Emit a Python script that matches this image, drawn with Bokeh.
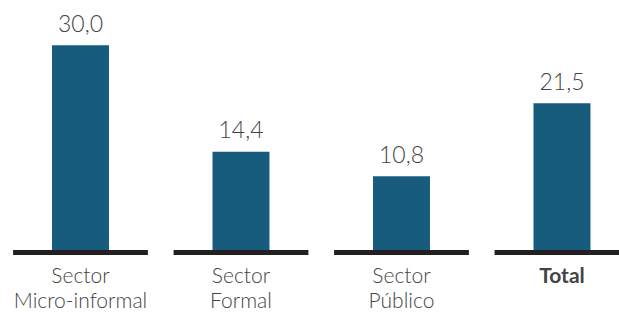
from bokeh.plotting import figure
from bokeh.models import ColumnDataSource, Range1d
from bokeh.core.properties import value
from bokeh.embed import file_html
from bokeh.resources import INLINE

categories = ["Sector Micro-informal", "Sector Formal", "Sector Público", "Total"]
values = [30.0, 14.4, 10.8, 21.5]
label_line1 = ["Sector", "Sector", "Sector", "Total"]
label_line2 = ["Micro-informal", "Formal", "Público", ""]
label_style = ["normal", "normal", "normal", "bold"]
label_font = ["Lato Light", "Lato Light", "Lato Light", "Lato"]

pos = list(range(len(categories)))
base_y = -2.6 / 6.875  # baseline drawn just under the bars
src = ColumnDataSource(dict(
    x=pos,
    top=values,
    lbl=[f"{v:.1f}".replace(".", ",") for v in values],
    l1=label_line1,
    l2=label_line2,
    st=label_style,
    fnt=label_font,
    zero=[0] * len(values),
    base=[base_y] * len(values),
    x0=[i - 0.42 for i in pos],
    x1=[i + 0.42 for i in pos],
))

p = figure(width=619, height=312, output_backend="svg", toolbar_location=None,
           x_range=Range1d(-0.4984, 3.3583), y_range=Range1d(-9.16, 36.55),
           min_border=0, outline_line_color=None)
p.axis.visible = False
p.grid.visible = False
p.background_fill_color = "white"
p.border_fill_color = "white"

p.vbar(x="x", top="top", bottom=0, width=0.355, source=src,
       fill_color="#175b7d", line_color=None)
p.segment(x0="x0", x1="x1", y0="base", y1="base", source=src,
          line_color="#231f20", line_width=5, line_cap="butt")

font = value("Lato Light")
p.text(x="x", y="top", text="lbl", source=src, text_align="center",
       text_baseline="alphabetic", y_offset=-22, text_font=font,
       text_font_size="23px", text_color="#444444")
p.text(x="x", y="zero", text="l1", source=src, text_align="center",
       text_baseline="alphabetic", y_offset=25, text_font="fnt",
       text_font_size="21px", text_color="#444444", text_font_style="st")
p.text(x="x", y="zero", text="l2", source=src, text_align="center",
       text_baseline="alphabetic", y_offset=50, text_font=font,
       text_font_size="21px", text_color="#444444")

open("out.html", "w").write(file_html(p, INLINE))
